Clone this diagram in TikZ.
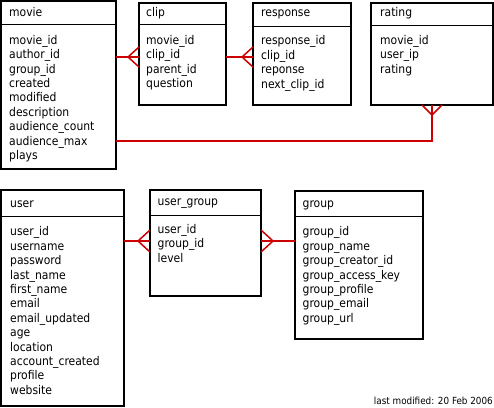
\documentclass[tikz,border=0pt]{standalone}
\usepackage{fontspec}
\newfontfamily\erfont{DejaVu Sans Condensed}
\usetikzlibrary{calc}
\definecolor{relred}{HTML}{CC0000}
\begin{document}
\begin{tikzpicture}[x=1pt, y=-1pt,
  font=\erfont\fontsize{12}{14.4}\selectfont,
  tbl/.style={draw, line width=2pt, outer sep=0pt, inner sep=0pt, anchor=north west},
  ttl/.style={anchor=base west, inner sep=0pt},
  fld/.style={anchor=north west, align=left, inner sep=0pt, execute at begin node=\strut},
  sep/.style={line width=1pt},
  rel/.style={draw=relred, line width=2pt},
  crow/.style={draw=relred, line width=1.5pt}]

\useasboundingbox (0,0) rectangle (494,407);

% tables, top row
\node[tbl, minimum width=115pt, minimum height=168pt] (movie) at (1,1) {};
\draw[sep] (movie.west |- 0,24) -- (movie.east |- 0,24);
\node[ttl] (movie-t) at (9,16) {movie};
\node[fld] (movie-f) at (9,34.9) {movie\_id\\ author\_id\\ group\_id\\ created\\ modified\\
  description\\ audience\_count\\ audience\_max\\ plays};

\node[tbl, minimum width=87pt, minimum height=102.5pt] (clip) at (139,2.5) {};
\draw[sep] (clip.west |- 0,24) -- (clip.east |- 0,24);
\node[ttl] (clip-t) at (146,16) {clip};
\node[fld] (clip-f) at (146,34.9) {movie\_id\\ clip\_id\\ parent\_id\\ question};

\node[tbl, minimum width=98pt, minimum height=102.5pt] (response) at (253,2.5) {};
\draw[sep] (response.west |- 0,26) -- (response.east |- 0,26);
\node[ttl] (response-t) at (261,16.7) {response};
\node[fld] (response-f) at (261,35.6) {response\_id\\ clip\_id\\ reponse\\ next\_clip\_id};

\node[tbl, minimum width=122pt, minimum height=102.5pt] (rating) at (371,2.5) {};
\draw[sep] (rating.west |- 0,25) -- (rating.east |- 0,25);
\node[ttl] (rating-t) at (380,16) {rating};
\node[fld] (rating-f) at (380,34.9) {movie\_id\\ user\_ip\\ rating};

% tables, bottom row
\node[tbl, minimum width=123pt, minimum height=216pt] (user) at (1,190) {};
\draw[sep] (user.west |- 0,216) -- (user.east |- 0,216);
\node[ttl] (user-t) at (10,207.7) {user};
\node[fld] (user-f) at (10,226.6) {user\_id\\ username\\ password\\ last\_name\\ first\_name\\
  email\\ email\_updated\\ age\\ location\\ account\_created\\ profile\\ website};

\node[tbl, minimum width=111pt, minimum height=106pt] (user_group) at (150,190) {};
\draw[sep] (user_group.west |- 0,215) -- (user_group.east |- 0,215);
\node[ttl] (user_group-t) at (157.5,205.7) {user\_group};
\node[fld] (user_group-f) at (157.5,224.2) {user\_id\\ group\_id\\ level};

\node[tbl, minimum width=128pt, minimum height=148pt] (group) at (295,191) {};
\draw[sep] (group.west |- 0,216) -- (group.east |- 0,216);
\node[ttl] (group-t) at (302.5,207.7) {group};
\node[fld] (group-f) at (302.5,226.6) {group\_id\\ group\_name\\ group\_creator\_id\\
  group\_access\_key\\ group\_profile\\ group\_email\\ group\_url};

% relations
\coordinate (r1) at (0,57);
\coordinate (r2) at (0,141);
\coordinate (r3) at (0,241);

\draw[rel] (movie.east |- r1) -- (clip.west |- r1);
\coordinate (c1) at (clip.west |- r1);
\draw[crow] ($(c1)+(0,-10)$) -- ($(c1)+(-11,0)$) -- ($(c1)+(0,10)$);

\draw[rel] (clip.east |- r1) -- (response.west |- r1);
\coordinate (c2) at (response.west |- r1);
\draw[crow] ($(c2)+(0,-10)$) -- ($(c2)+(-11,0)$) -- ($(c2)+(0,10)$);

\draw[rel] (movie.east |- r2) -| (rating.south);
\draw[crow] ($(rating.south)+(-10,0)$) -- ($(rating.south)+(0,10)$) -- ($(rating.south)+(10,0)$);

\draw[rel] (user.east |- r3) -- (user_group.west |- r3);
\coordinate (c3) at (user_group.west |- r3);
\draw[crow] ($(c3)+(0,-11)$) -- ($(c3)+(-12,0)$) -- ($(c3)+(0,11)$);

\draw[rel] (user_group.east |- r3) -- (group.west |- r3);
\coordinate (c4) at (user_group.east |- r3);
\draw[crow] ($(c4)+(0,-11)$) -- ($(c4)+(12,0)$) -- ($(c4)+(0,11)$);

\node[anchor=base east, inner sep=0pt, font=\erfont\fontsize{9.8}{12}\selectfont] (stamp) at (493,404)
  {last modified: 20 Feb 2006};
\end{tikzpicture}
\end{document}
